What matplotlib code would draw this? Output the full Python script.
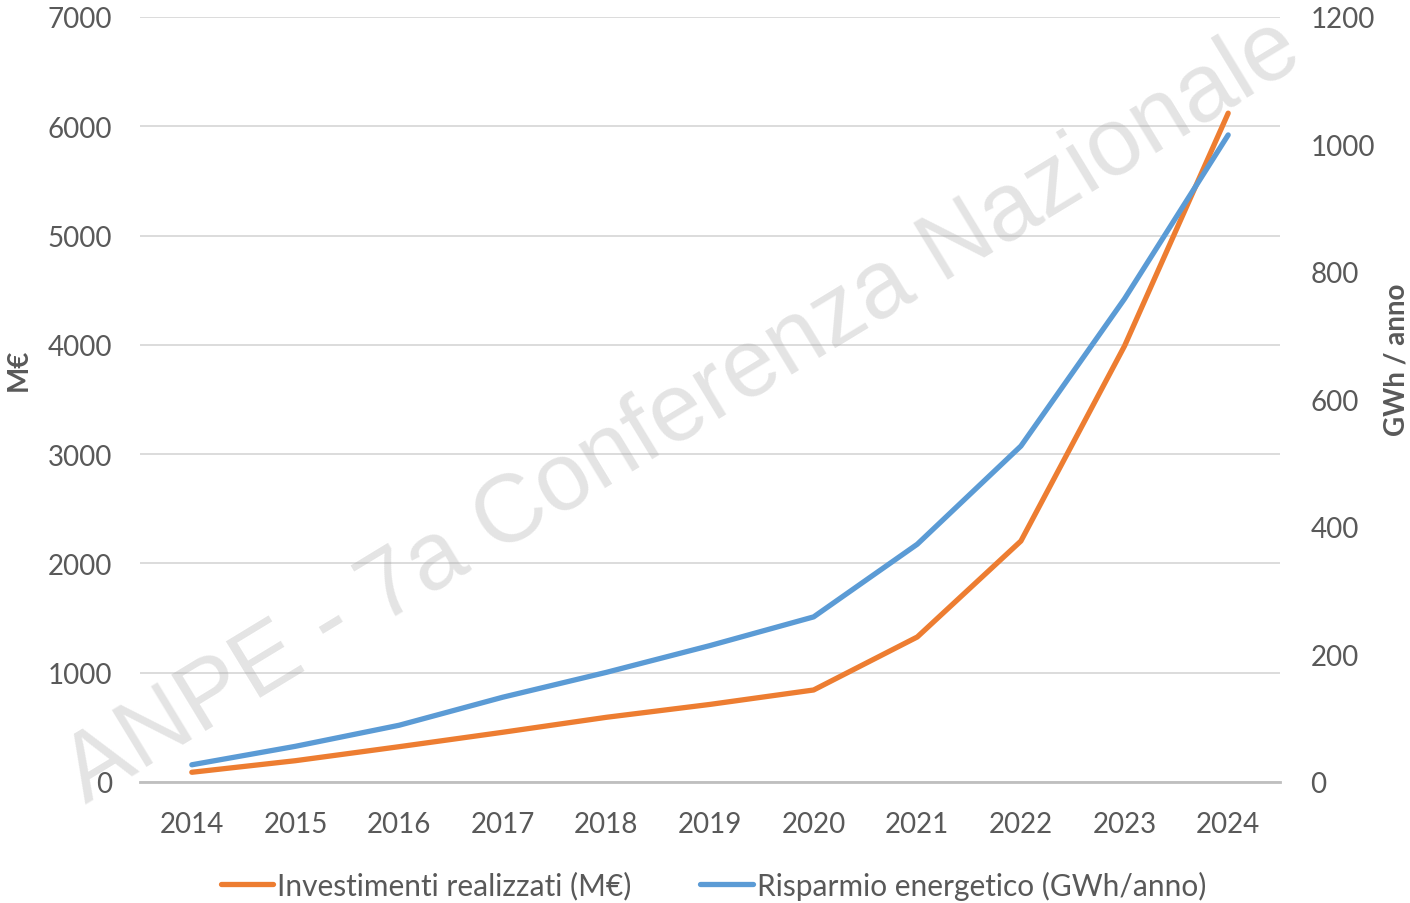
import matplotlib.pyplot as plt

years = ['2014', '2015', '2016', '2017', '2018', '2019', '2020', '2021', '2022', '2023', '2024']
investimenti = [89, 195, 323, 455, 592, 710, 842, 1327, 2205, 3990, 6120]   # M€
risparmio = [27, 56, 89, 133, 172, 214, 259, 373, 527, 758, 1015]          # GWh/anno

orange = '#ED7D31'
blue = '#5B9BD5'
grey_txt = '#595959'

plt.rcParams['font.family'] = ['Lato', 'DejaVu Sans']

fig = plt.figure(figsize=(14.1, 9.04), dpi=100)
ax = fig.add_axes([140 / 1410, 1 - 783 / 904, 1140 / 1410, 765 / 904])
ax2 = ax.twinx()

x = range(len(years))
l1, = ax.plot(x, investimenti, color=orange, lw=3.8, solid_capstyle='round',
              label='Investimenti realizzati (M€)', zorder=3)
l2, = ax2.plot(x, risparmio, color=blue, lw=3.8, solid_capstyle='round',
               label='Risparmio energetico (GWh/anno)', zorder=3)

ax.set_xlim(-0.5, len(years) - 0.5)
ax.set_ylim(0, 7000)
ax2.set_ylim(0, 1200)
ax.set_yticks(range(0, 7001, 1000))
ax2.set_yticks(range(0, 1201, 200))
ax.set_xticks(list(x))
ax.set_xticklabels(years)

ax.grid(axis='y', color='#D9D9D9', lw=1.3)
ax.set_axisbelow(True)
for a in (ax, ax2):
    for s in a.spines.values():
        s.set_visible(False)
    a.tick_params(length=0, labelsize=20, colors=grey_txt)
ax.spines['bottom'].set_visible(True)
ax.spines['bottom'].set_color('#BFBFBF')
ax.spines['bottom'].set_linewidth(2)
ax.tick_params(axis='y', pad=20)
ax.tick_params(axis='x', pad=21)
ax2.tick_params(axis='y', pad=22)

ax.set_ylabel('M€', fontsize=20, fontweight='bold', color=grey_txt)
ax.yaxis.set_label_coords(-0.0947, 0.54)
ax2.set_ylabel('GWh / anno', fontsize=20, fontweight='bold', color=grey_txt)
ax2.yaxis.set_label_coords(1.091, 0.553)

# watermark
fig.text(0.484, 0.545, 'ANPE - 7a Conferenza Nazionale', fontsize=69,
         family=['Liberation Sans', 'DejaVu Sans'], color='#A6A6A6', alpha=0.3,
         rotation=31.3, ha='center', va='center', zorder=10)

fig.legend(handles=[l1, l2], loc='center', bbox_to_anchor=(0.506, 1 - 886 / 904),
           ncol=2, frameon=False, fontsize=21.5, handlelength=1.75, handletextpad=0.15,
           columnspacing=2.3, labelcolor=grey_txt)

fig.savefig('out.png', dpi=100)
